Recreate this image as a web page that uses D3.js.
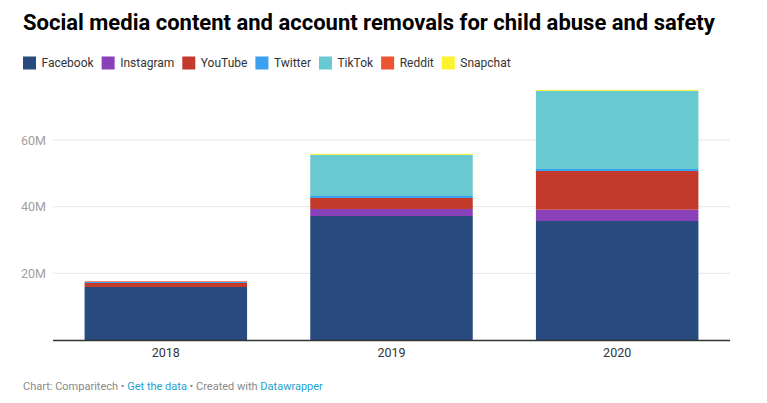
<!DOCTYPE html>
<html><head><meta charset="utf-8">
<script src="https://cdn.jsdelivr.net/npm/d3@7"></script>
<style>body{margin:0;background:#fff;font-family:Roboto,"Noto Sans",sans-serif;}</style>
</head><body><svg id="c" width="767" height="403"></svg>
<script>
const years = ["2018","2019","2020"];
const seriesNames = ["Facebook","Instagram","YouTube","Twitter","TikTok","Reddit","Snapchat"];
const facebook  = [15.9, 37.2, 35.7];
const instagram = [0,    2.1,  3.4];
const youtube   = [1.2,  3.3,  11.6];
const twitter   = [0.3,  0.6,  0.6];
const tiktok    = [0,    12.3, 23.4];
const reddit    = [0.2,  0.05, 0.05];
const snapchat  = [0,    0.3,  0.3];
const yTicks = [20, 40, 60];
const colors = ["#284a7e","#8a40b8","#c3392b","#3aa0ef","#68c9d1","#ed5431","#fbf42d"];

const values = [facebook, instagram, youtube, twitter, tiktok, reddit, snapchat];
const rows = years.map((y,i)=>{const r={year:y}; seriesNames.forEach((s,k)=>r[s]=values[k][i]); return r;});
const stacked = d3.stack().keys(seriesNames)(rows);

const svg = d3.select("#c");
const x = d3.scaleBand().domain(years).range([53,730]).paddingInner(0.28).paddingOuter(0.14);
const y = d3.scaleLinear().domain([0,75]).range([340,90]);

svg.append("text").attr("x",23).attr("y",29.5).attr("font-size",22).attr("font-weight",700)
  .attr("fill","#000").text("Social media content and account removals for child abuse and safety");

// legend
const lg = svg.append("g");
let lx = 23;
seriesNames.forEach((s,k)=>{
  lg.append("rect").attr("x",lx).attr("y",56.5).attr("width",13).attr("height",13).attr("fill",colors[k]);
  const t = lg.append("text").attr("x",lx+18.5).attr("y",67).attr("font-size",12).attr("fill","#333").text(s);
  lx += 18.5 + t.node().getComputedTextLength() + 8;
});

// grid
svg.append("g").selectAll("line").data(yTicks).join("line")
  .attr("x1",53).attr("x2",730).attr("y1",d=>y(d)).attr("y2",d=>y(d))
  .attr("stroke","#e5e5e5").attr("stroke-width",1);
svg.append("g").selectAll("text").data(yTicks).join("text")
  .attr("x",46).attr("y",d=>y(d)+4.5).attr("text-anchor","end").attr("font-size",12.5)
  .attr("fill","#a0a0a0").text(d=>d+"M");

// bars
svg.append("g").selectAll("g").data(stacked).join("g").attr("fill",(d,i)=>colors[i])
  .selectAll("rect").data(d=>d).join("rect")
  .attr("x",d=>x(d.data.year)).attr("width",x.bandwidth())
  .attr("y",d=>y(d[1])).attr("height",d=>Math.max(0,y(d[0])-y(d[1])));

// baseline
svg.append("line").attr("x1",53).attr("x2",730).attr("y1",340.5).attr("y2",340.5)
  .attr("stroke","#333").attr("stroke-width",1.3);

svg.append("g").selectAll("text").data(years).join("text")
  .attr("x",d=>x(d)+x.bandwidth()/2).attr("y",357).attr("text-anchor","middle")
  .attr("font-size",12.5).attr("fill","#333").text(d=>d);

// footer
const f = svg.append("text").attr("x",23).attr("y",389.5).attr("font-size",11);
f.append("tspan").attr("fill","#888").text("Chart: Comparitech • ");
f.append("tspan").attr("fill","#1d9fd0").text("Get the data");
f.append("tspan").attr("fill","#888").text(" • Created with ");
f.append("tspan").attr("fill","#1d9fd0").text("Datawrapper");
</script></body></html>
